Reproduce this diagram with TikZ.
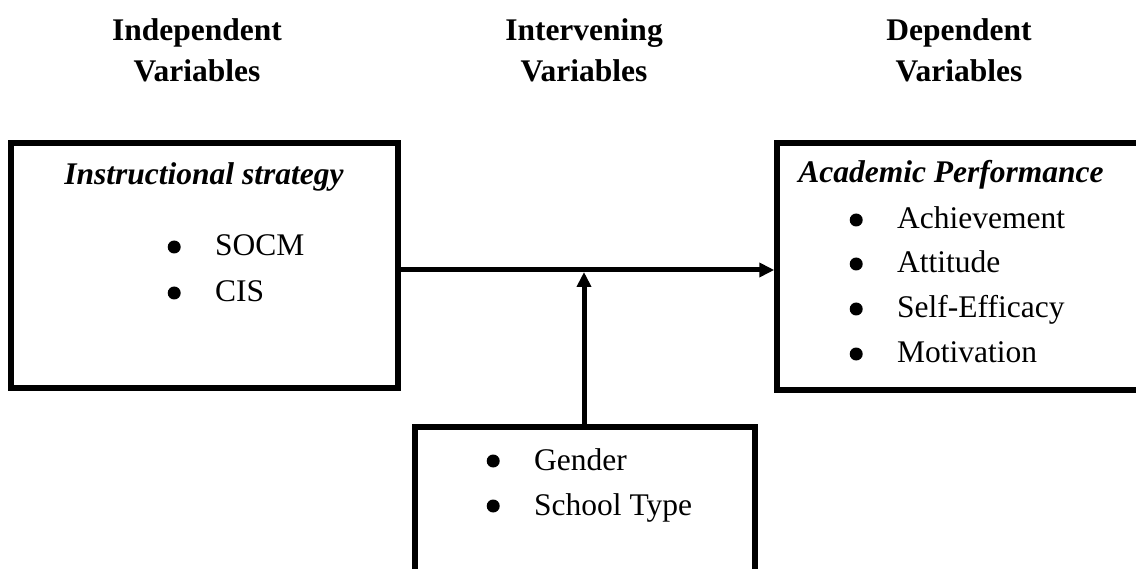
\documentclass[tikz,border=0pt]{standalone}
\usepackage{fontspec}
\setmainfont{Liberation Serif}
\usetikzlibrary{arrows.meta}
\newcommand\myblt{\makebox[47.5pt][l]{\raisebox{2.5pt}{\tikz\fill (0,0) circle (6.5pt);}}}
\begin{document}
\begin{tikzpicture}[x=1pt,y=-1pt,
  box/.style={draw, line width=5.5pt, rectangle, inner sep=0pt},
  head/.style={font=\fontsize{31.5}{41}\selectfont\bfseries, align=center, anchor=base},
  ttl/.style={font=\fontsize{31.5}{38}\selectfont\bfseries\itshape, anchor=base, inner sep=0pt},
  itm/.style={font=\fontsize{31.5}{38}\selectfont, anchor=base west, inner sep=0pt},
  arr/.style={line width=5pt, -{Triangle[length=15pt,width=14pt]}}]
\useasboundingbox[fill=white] (0,0) rectangle (1136,569);
% headers
\node[head] (h1) at (197,82) {Independent\\Variables};
\node[head] (h2) at (584,82) {Intervening\\Variables};
\node[head] (h3) at (959,82) {Dependent\\Variables};
% boxes
\node[box, minimum width=387pt, minimum height=245pt] (L) at (204.5,265.5) {};
\node[box, minimum width=368pt, minimum height=247pt] (R) at (961,266.5) {};
\node[box, minimum width=340pt, minimum height=173pt] (B) at (585,513.5) {};
% left box contents
\node[ttl] (lt) at (204,185) {Instructional strategy};
\node[itm] (l1) at (167.5,256) {\myblt SOCM};
\node[itm] (l2) at (167.5,302) {\myblt CIS};
% right box contents
\node[ttl] (rt) at (951,183) {Academic Performance};
\node[itm] (r1) at (849.5,229) {\myblt Achievement};
\node[itm] (r2) at (849.5,273) {\myblt Attitude};
\node[itm] (r3) at (849.5,318) {\myblt Self-Efficacy};
\node[itm] (r4) at (849.5,363) {\myblt Motivation};
% bottom box contents
\node[itm] (b1) at (486.5,470) {\myblt Gender};
\node[itm] (b2) at (486.5,515) {\myblt School Type};
% arrows
\coordinate (mid) at (584,270);
\draw[arr] (L.east |- mid) -- (R.west |- mid);
\draw[arr] (B.north -| mid) -- ([yshift=-2pt]mid);
\end{tikzpicture}
\end{document}
